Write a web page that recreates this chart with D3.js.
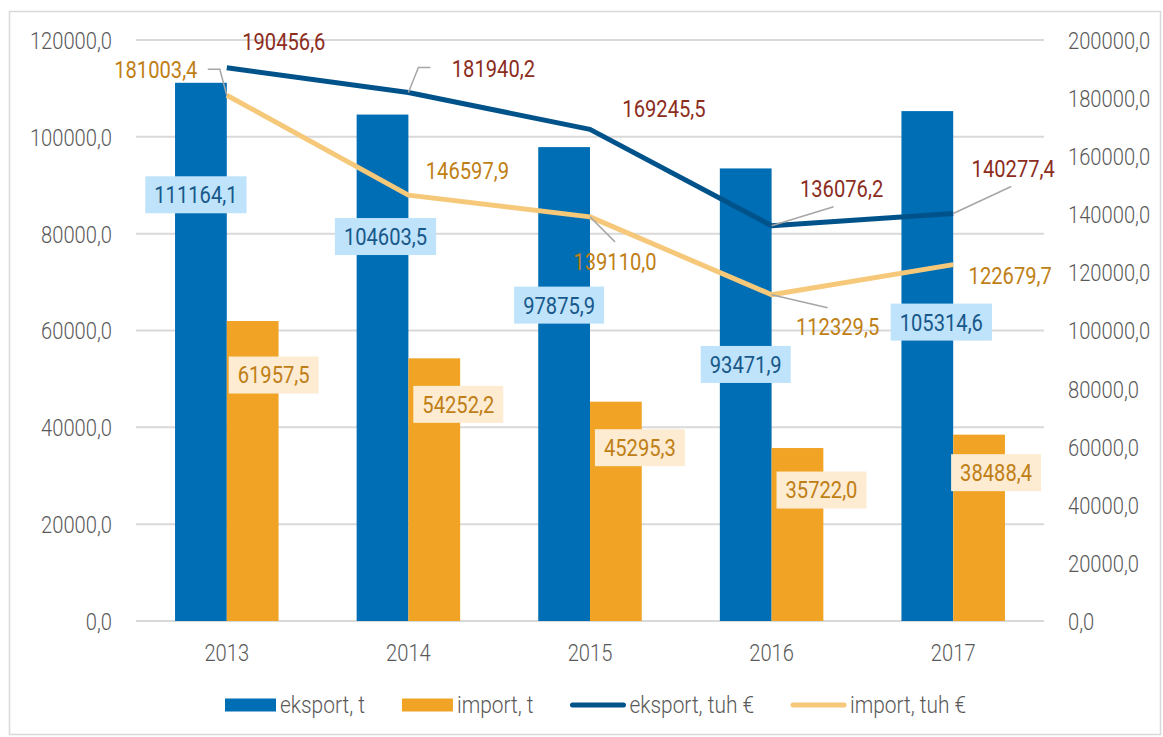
<!DOCTYPE html>
<html>
<head>
<meta charset="utf-8">
<script src="https://cdn.jsdelivr.net/npm/d3@7"></script>
<style>
body{margin:0;background:#fff}
svg text{font-family:Roboto,"Liberation Sans",sans-serif}
</style>
</head>
<body>
<svg id="chart" width="1163" height="737"></svg>
<script>
// data
var years = ["2013", "2014", "2015", "2016", "2017"];
var eksportT = [111164.1, 104603.5, 97875.9, 93471.9, 105314.6];
var importT = [61957.5, 54252.2, 45295.3, 35722.0, 38488.4];
var eksportEur = [190456.6, 181940.2, 169245.5, 136076.2, 140277.4];
var importEur = [181003.4, 146597.9, 139110.0, 112329.5, 122679.7];
var leftTicks = [0, 20000, 40000, 60000, 80000, 100000, 120000];
var rightTicks = [0, 20000, 40000, 60000, 80000, 100000, 120000, 140000, 160000, 180000, 200000];
var legendNames = ["eksport, t", "import, t", "eksport, tuh €", "import, tuh €"];

// label placement (offset from the mark, px)
var eksportTLab = [[-5,112],[3,122],[-5,158],[0,196],[14,211]];
var importTLab = [[21,54],[24,46],[24,46],[24,42],[17,38]];
var eksportEurLab = [[57,-26],[85,-24],[74,-21],[70,-37],[60,-45]];
var importEurLab = [[-71,-26],[59,-25],[25,45],[66,32],[57,11]];
// leader lines, relative to the point
var eksportEurLead = [null, [[0,0],[10,-25],[22,-25]], null, [[0,0],[62,-19]], [[0,0],[58,-27]]];
var importEurLead = [[[0,0],[-7,-26],[-19,-26]], null, [[0,0],[25,25]], [[0,0],[56,13]], null];

var SX = 0.84;   // condensed look
var FS = 24;
var col = {
	blue: "#006EB5", orange: "#F0A324", dark: "#00538A", light: "#F6C87A",
	grid: "#D9D9D9", axis: "#595959",
	blueTxt: "#18588A", blueBg: "#BEE3FA",
	orTxt: "#BF7F16", orBg: "#FDEBD2", red: "#8C2D1E"
};

var svg = d3.select("#chart");
var x0 = 136, x1 = 1044, yTop = 40, yBot = 621;

// frame
svg.append("rect").attr("x", 9.5).attr("y", 11.5).attr("width", 1151).attr("height", 723)
	.attr("fill", "none").attr("stroke", col.grid).attr("stroke-width", 1.5);

var x = d3.scaleBand().domain(years).range([x0, x1]).paddingInner(0.43).paddingOuter(0.215);
var xs = d3.scaleBand().domain(["e", "i"]).range([0, x.bandwidth()]);
var yL = d3.scaleLinear().domain([0, 120000]).range([yBot, yTop]);
var yR = d3.scaleLinear().domain([0, 200000]).range([yBot, yTop]);
var fmt = function(v){ return d3.format(".1f")(v).replace(".", ","); };

function ctext(g, px, py, str, color, anchor, sx){
	return g.append("text")
		.attr("transform", "translate(" + px + "," + py + ") scale(" + (sx || SX) + ",1)")
		.attr("text-anchor", anchor || "middle")
		.attr("dy", "0.35em")
		.attr("font-size", FS)
		.attr("fill", color)
		.text(str);
}

// gridlines
svg.append("g").selectAll("line").data(leftTicks).join("line")
	.attr("x1", x0).attr("x2", x1)
	.attr("y1", function(d){ return yL(d); }).attr("y2", function(d){ return yL(d); })
	.attr("stroke", col.grid).attr("stroke-width", 2);

// axes
function styleAxis(g, off, anchor){
	g.select(".domain").remove();
	g.attr("font-size", FS).attr("font-family", null);
	g.selectAll("text").attr("x", null).attr("dy", "0.35em")
		.attr("text-anchor", anchor)
		.attr("font-weight", 300)
		.attr("transform", "translate(" + off + ",0) scale(" + SX + ",1)")
		.attr("fill", col.axis);
}
var axL = svg.append("g").attr("transform", "translate(" + x0 + ",0)")
	.call(d3.axisLeft(yL).tickValues(leftTicks).tickSize(0).tickFormat(fmt));
styleAxis(axL, -24, "end");
var axR = svg.append("g").attr("transform", "translate(" + x1 + ",0)")
	.call(d3.axisRight(yR).tickValues(rightTicks).tickSize(0).tickFormat(fmt));
styleAxis(axR, 24, "start");
var axB = svg.append("g").attr("transform", "translate(0," + yBot + ")")
	.call(d3.axisBottom(x).tickSize(0));
axB.select(".domain").remove();
axB.attr("font-size", FS).attr("font-family", null);
axB.selectAll("text").attr("y", null).attr("dy", null).attr("font-weight", 300)
	.attr("transform", "translate(0,40) scale(" + SX + ",1)").attr("fill", col.axis);

// bars
svg.append("g").selectAll("rect").data(eksportT).join("rect")
	.attr("x", function(d, i){ return x(years[i]) + xs("e"); })
	.attr("y", function(d){ return yL(d); })
	.attr("width", xs.bandwidth())
	.attr("height", function(d){ return yBot - yL(d); })
	.attr("fill", col.blue);
svg.append("g").selectAll("rect").data(importT).join("rect")
	.attr("x", function(d, i){ return x(years[i]) + xs("i"); })
	.attr("y", function(d){ return yL(d); })
	.attr("width", xs.bandwidth())
	.attr("height", function(d){ return yBot - yL(d); })
	.attr("fill", col.orange);

// lines
var cx = function(i){ return x(years[i]) + x.bandwidth() / 2; };
var line = d3.line().x(function(d, i){ return cx(i); }).y(function(d){ return yR(d); });
svg.append("path").attr("d", line(importEur)).attr("fill", "none")
	.attr("stroke", col.light).attr("stroke-width", 5).attr("stroke-linejoin", "round");
svg.append("path").attr("d", line(eksportEur)).attr("fill", "none")
	.attr("stroke", col.dark).attr("stroke-width", 5).attr("stroke-linejoin", "round");

// leader lines
function leaders(vals, leads){
	vals.forEach(function(v, i){
		if (!leads[i]) return;
		var px = cx(i), py = yR(v);
		svg.append("polyline")
			.attr("points", leads[i].map(function(p){ return (px + p[0]) + "," + (py + p[1]); }).join(" "))
			.attr("fill", "none").attr("stroke", "#A6A6A6").attr("stroke-width", 1.5);
	});
}
leaders(eksportEur, eksportEurLead);
leaders(importEur, importEurLead);

// bar labels with boxes
function boxLabels(vals, key, offs, txtCol, bg){
	var g = svg.append("g");
	vals.forEach(function(v, i){
		var px = x(years[i]) + xs(key) + xs.bandwidth() / 2 + offs[i][0];
		var py = yL(v) + offs[i][1];
		var r = g.append("rect").attr("fill", bg);
		var t = ctext(g, px, py, fmt(v), txtCol);
		var w = t.node().getComputedTextLength() * SX + 18;
		r.attr("x", px - w / 2).attr("y", py - 18.5).attr("width", w).attr("height", 37);
	});
}
boxLabels(eksportT, "e", eksportTLab, col.blueTxt, col.blueBg);
boxLabels(importT, "i", importTLab, col.orTxt, col.orBg);

// line labels
function lineLabels(vals, offs, txtCol){
	var g = svg.append("g");
	vals.forEach(function(v, i){
		ctext(g, cx(i) + offs[i][0], yR(v) + offs[i][1], fmt(v), txtCol);
	});
}
lineLabels(eksportEur, eksportEurLab, col.red);
lineLabels(importEur, importEurLab, col.orTxt);

// legend
var lg = svg.append("g");
var lx = 225, ly = 705, LSX = 0.87;
legendNames.forEach(function(name, i){
	if (i < 2) {
		lg.append("rect").attr("x", lx).attr("y", ly - 6.5).attr("width", 51).attr("height", 13)
			.attr("fill", i == 0 ? col.blue : col.orange);
		lx += 51;
	} else {
		lg.append("line").attr("x1", lx + 2).attr("x2", lx + 53).attr("y1", ly).attr("y2", ly)
			.attr("stroke", i == 2 ? col.dark : col.light).attr("stroke-width", 5)
			.attr("stroke-linecap", "round");
		lx += 55;
	}
	var t = ctext(lg, lx + 4, ly, name, col.axis, "start", LSX).attr("font-weight", 300);
	lx += 4 + t.node().getComputedTextLength() * LSX + 37;
});
</script>
</body>
</html>
